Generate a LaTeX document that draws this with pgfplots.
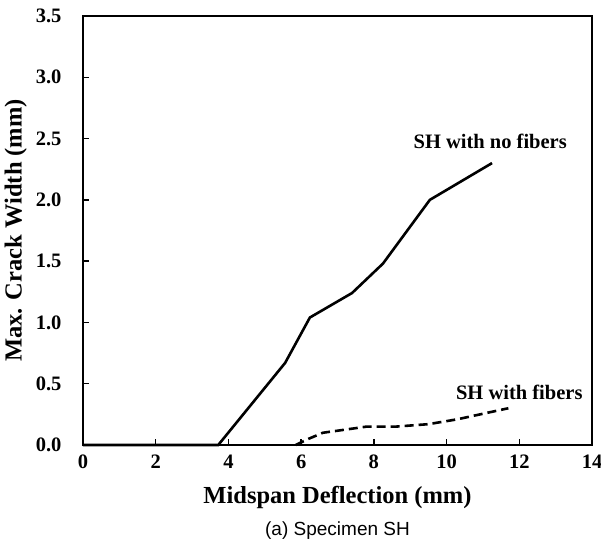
\documentclass[border=0pt]{standalone}
\usepackage{fontspec}
\setmainfont{Liberation Serif}
\newfontfamily\arialfont{Liberation Sans}
\usepackage{pgfplots}
\pgfplotsset{compat=1.18}
\begin{document}
\begin{tikzpicture}
\useasboundingbox (-83pt,-99pt) rectangle (518pt,445pt);
\begin{axis}[
  at={(0,0)}, anchor=south west,
  scale only axis, width=509pt, height=429pt,
  xmin=0, xmax=14, ymin=0, ymax=3.5,
  xtick={0,2,...,14}, ytick={0,0.5,...,3.5},
  xtick pos=bottom, ytick pos=left,
  tick align=inside, major tick length=6pt,
  axis line style={line width=1.8pt},
  every tick/.style={black, line width=1.4pt},
  /pgf/number format/assume math mode=true,
  tick label style={font=\fontsize{20.5}{24}\selectfont\bfseries},
  yticklabel style={/pgf/number format/fixed, /pgf/number format/fixed zerofill, /pgf/number format/precision=1, xshift=-18pt},
  xticklabel style={yshift=-6pt},
  xlabel={Midspan Deflection (mm)},
  ylabel={Max. Crack Width (mm)},
  label style={font=\fontsize{24.5}{28}\selectfont\bfseries},
  xlabel style={at={(axis description cs:0.5,-0.123)}, anchor=center},
  ylabel style={at={(axis description cs:-0.132,0.5)}, anchor=center},
  clip=false,
]
\addplot[black, line width=2.6pt] coordinates {
 (0,0) (3.72,0) (5.56,0.67) (6.24,1.04) (7.40,1.24) (8.25,1.48) (9.54,2.0) (11.25,2.30)
};
\addplot[black, line width=2.6pt, dash pattern=on 9pt off 5pt] coordinates {
 (5.85,0) (6.2,0.05) (6.6,0.10) (7.8,0.15) (8.6,0.15) (9.5,0.17) (10.3,0.21) (11.7,0.30)
};
\node[font=\fontsize{20.5}{24}\selectfont\bfseries] at (axis cs:11.2,2.48) {SH with no fibers};
\node[font=\fontsize{20.5}{24}\selectfont\bfseries] at (axis cs:12.0,0.43) {SH with fibers};
\node[font=\arialfont\fontsize{19}{22}\selectfont] at (axis description cs:0.5,-0.199) {(a) Specimen SH};
\end{axis}
\end{tikzpicture}
\end{document}
